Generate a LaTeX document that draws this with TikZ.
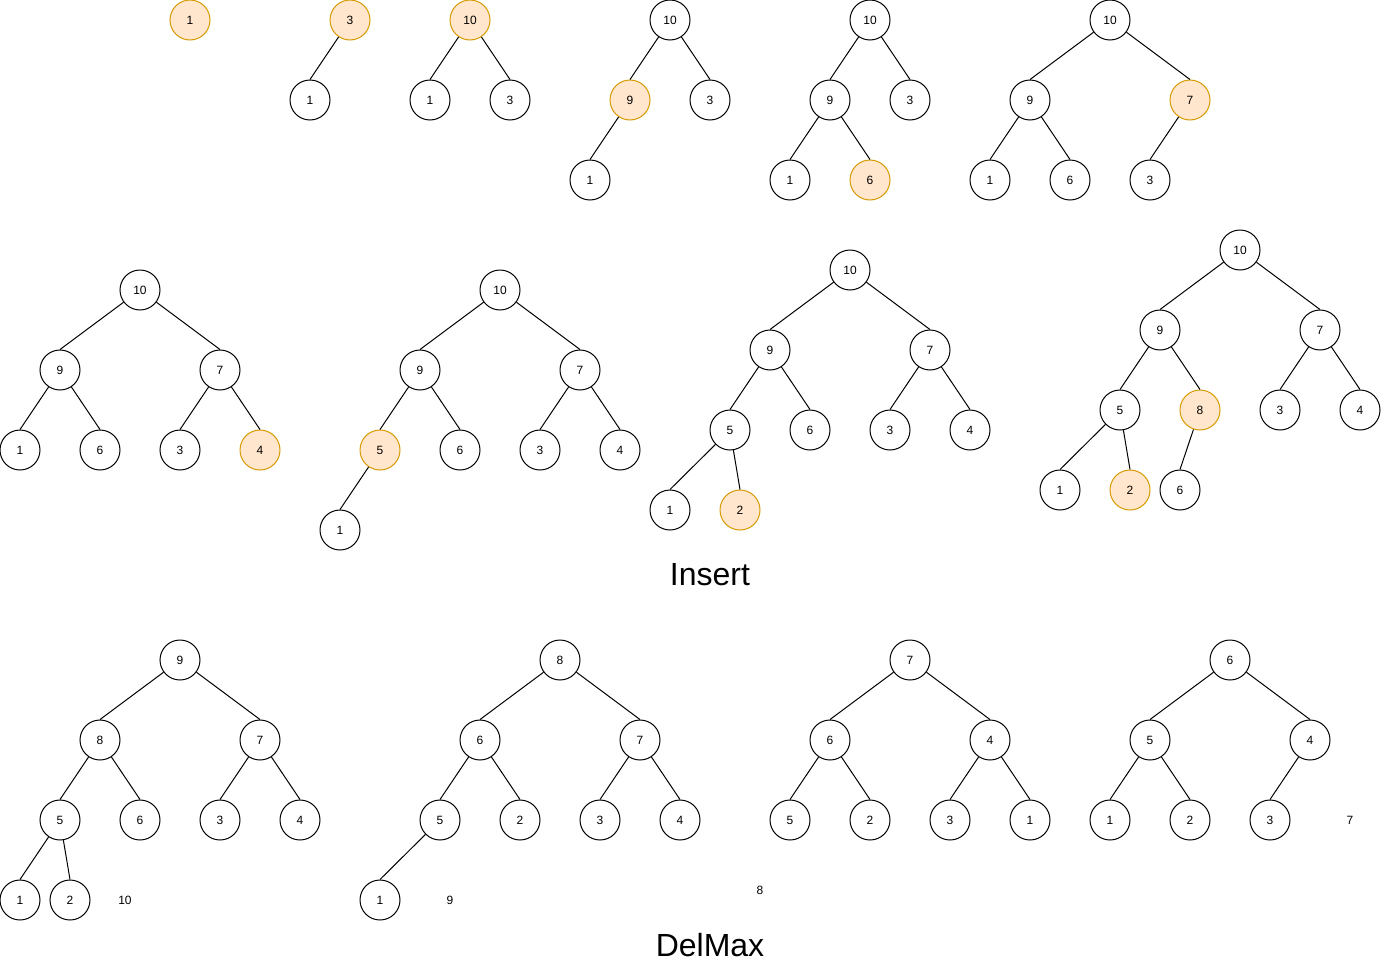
\documentclass[tikz,border=0pt]{standalone}
\usepackage{fontspec}
\setmainfont{Liberation Sans}
\definecolor{hlfill}{HTML}{FFE6CC}
\definecolor{hldraw}{HTML}{D79B00}
\begin{document}
\begin{tikzpicture}[x=0.75pt,y=-0.75pt]
\tikzset{
  hn/.style={circle,draw,line width=0.75pt,minimum size=30pt,inner sep=0pt,font=\fontsize{9}{10}\selectfont},
  hl/.style={hn,fill=hlfill,draw=hldraw},
  lbl/.style={font=\fontsize{9}{10}\selectfont},
  ttl/.style={font=\fontsize{24}{28}\selectfont},
  ed/.style={line width=0.75pt}
}
\newcommand\tedge[2]{\draw[ed] (#1) -- (#2.north);}
\useasboundingbox (0,0) rectangle (1382,971);
% ---------- Insert row 1 ----------
\node[hl] (a1) at (190,20) {1};

\node[hl] (b1) at (350,20) {3};
\node[hn] (b2) at (310,100) {1};
\tedge{b1}{b2}

\node[hl] (c1) at (470,20) {10};
\node[hn] (c2) at (430,100) {1};
\node[hn] (c3) at (510,100) {3};
\tedge{c1}{c2} \tedge{c1}{c3}

\node[hn] (d1) at (670,20) {10};
\node[hl] (d2) at (630,100) {9};
\node[hn] (d3) at (710,100) {3};
\node[hn] (d4) at (590,180) {1};
\tedge{d1}{d2} \tedge{d1}{d3} \tedge{d2}{d4}

\node[hn] (e1) at (870,20) {10};
\node[hn] (e2) at (830,100) {9};
\node[hn] (e3) at (910,100) {3};
\node[hn] (e4) at (790,180) {1};
\node[hl] (e5) at (870,180) {6};
\tedge{e1}{e2} \tedge{e1}{e3} \tedge{e2}{e4} \tedge{e2}{e5}

\node[hn] (f1) at (1110,20) {10};
\node[hn] (f2) at (1030,100) {9};
\node[hl] (f3) at (1190,100) {7};
\node[hn] (f4) at (990,180) {1};
\node[hn] (f5) at (1070,180) {6};
\node[hn] (f6) at (1150,180) {3};
\tedge{f1}{f2} \tedge{f1}{f3} \tedge{f2}{f4} \tedge{f2}{f5} \tedge{f3}{f6}

% ---------- Insert row 2 ----------
\node[hn] (g1) at (140,290) {10};
\node[hn] (g2) at (60,370) {9};
\node[hn] (g3) at (220,370) {7};
\node[hn] (g4) at (20,450) {1};
\node[hn] (g5) at (100,450) {6};
\node[hn] (g6) at (180,450) {3};
\node[hl] (g7) at (260,450) {4};
\tedge{g1}{g2} \tedge{g1}{g3} \tedge{g2}{g4} \tedge{g2}{g5} \tedge{g3}{g6} \tedge{g3}{g7}

\node[hn] (h1) at (500,290) {10};
\node[hn] (h2) at (420,370) {9};
\node[hn] (h3) at (580,370) {7};
\node[hl] (h4) at (380,450) {5};
\node[hn] (h5) at (460,450) {6};
\node[hn] (h6) at (540,450) {3};
\node[hn] (h7) at (620,450) {4};
\node[hn] (h8) at (340,530) {1};
\tedge{h1}{h2} \tedge{h1}{h3} \tedge{h2}{h4} \tedge{h2}{h5} \tedge{h3}{h6} \tedge{h3}{h7} \tedge{h4}{h8}

\node[hn] (i1) at (850,270) {10};
\node[hn] (i2) at (770,350) {9};
\node[hn] (i3) at (930,350) {7};
\node[hn] (i4) at (730,430) {5};
\node[hn] (i5) at (810,430) {6};
\node[hn] (i6) at (890,430) {3};
\node[hn] (i7) at (970,430) {4};
\node[hn] (i8) at (670,510) {1};
\node[hl] (i9) at (740,510) {2};
\tedge{i1}{i2} \tedge{i1}{i3} \tedge{i2}{i4} \tedge{i2}{i5} \tedge{i3}{i6} \tedge{i3}{i7} \tedge{i4}{i8} \tedge{i4}{i9}

\node[hn] (j1) at (1240,250) {10};
\node[hn] (j2) at (1160,330) {9};
\node[hn] (j3) at (1320,330) {7};
\node[hn] (j4) at (1120,410) {5};
\node[hl] (j5) at (1200,410) {8};
\node[hn] (j6) at (1280,410) {3};
\node[hn] (j7) at (1360,410) {4};
\node[hn] (j8) at (1060,490) {1};
\node[hl] (j9) at (1130,490) {2};
\node[hn] (j10) at (1180,490) {6};
\tedge{j1}{j2} \tedge{j1}{j3} \tedge{j2}{j4} \tedge{j2}{j5} \tedge{j3}{j6} \tedge{j3}{j7} \tedge{j4}{j8} \tedge{j4}{j9} \tedge{j5}{j10}

\node[ttl] (ins) at (710,575) {Insert};

% ---------- DelMax ----------
\node[hn] (k1) at (180,660) {9};
\node[hn] (k2) at (100,740) {8};
\node[hn] (k3) at (260,740) {7};
\node[hn] (k4) at (60,820) {5};
\node[hn] (k5) at (140,820) {6};
\node[hn] (k6) at (220,820) {3};
\node[hn] (k7) at (300,820) {4};
\node[hn] (k8) at (20,900) {1};
\node[hn] (k9) at (70,900) {2};
\node[lbl] (kt) at (125,900) {10};
\tedge{k1}{k2} \tedge{k1}{k3} \tedge{k2}{k4} \tedge{k2}{k5} \tedge{k3}{k6} \tedge{k3}{k7} \tedge{k4}{k8} \tedge{k4}{k9}

\node[hn] (l1) at (560,660) {8};
\node[hn] (l2) at (480,740) {6};
\node[hn] (l3) at (640,740) {7};
\node[hn] (l4) at (440,820) {5};
\node[hn] (l5) at (520,820) {2};
\node[hn] (l6) at (600,820) {3};
\node[hn] (l7) at (680,820) {4};
\node[hn] (l8) at (380,900) {1};
\node[lbl] (lt) at (450,900) {9};
\tedge{l1}{l2} \tedge{l1}{l3} \tedge{l2}{l4} \tedge{l2}{l5} \tedge{l3}{l6} \tedge{l3}{l7} \tedge{l4}{l8}

\node[hn] (m1) at (910,660) {7};
\node[hn] (m2) at (830,740) {6};
\node[hn] (m3) at (990,740) {4};
\node[hn] (m4) at (790,820) {5};
\node[hn] (m5) at (870,820) {2};
\node[hn] (m6) at (950,820) {3};
\node[hn] (m7) at (1030,820) {1};
\node[lbl] (mt) at (760,890) {8};
\tedge{m1}{m2} \tedge{m1}{m3} \tedge{m2}{m4} \tedge{m2}{m5} \tedge{m3}{m6} \tedge{m3}{m7}

\node[hn] (n1) at (1230,660) {6};
\node[hn] (n2) at (1150,740) {5};
\node[hn] (n3) at (1310,740) {4};
\node[hn] (n4) at (1110,820) {1};
\node[hn] (n5) at (1190,820) {2};
\node[hn] (n6) at (1270,820) {3};
\node[lbl] (nt) at (1350,820) {7};
\tedge{n1}{n2} \tedge{n1}{n3} \tedge{n2}{n4} \tedge{n2}{n5} \tedge{n3}{n6}

\node[ttl] (dm) at (710,945) {DelMax};
\end{tikzpicture}
\end{document}
